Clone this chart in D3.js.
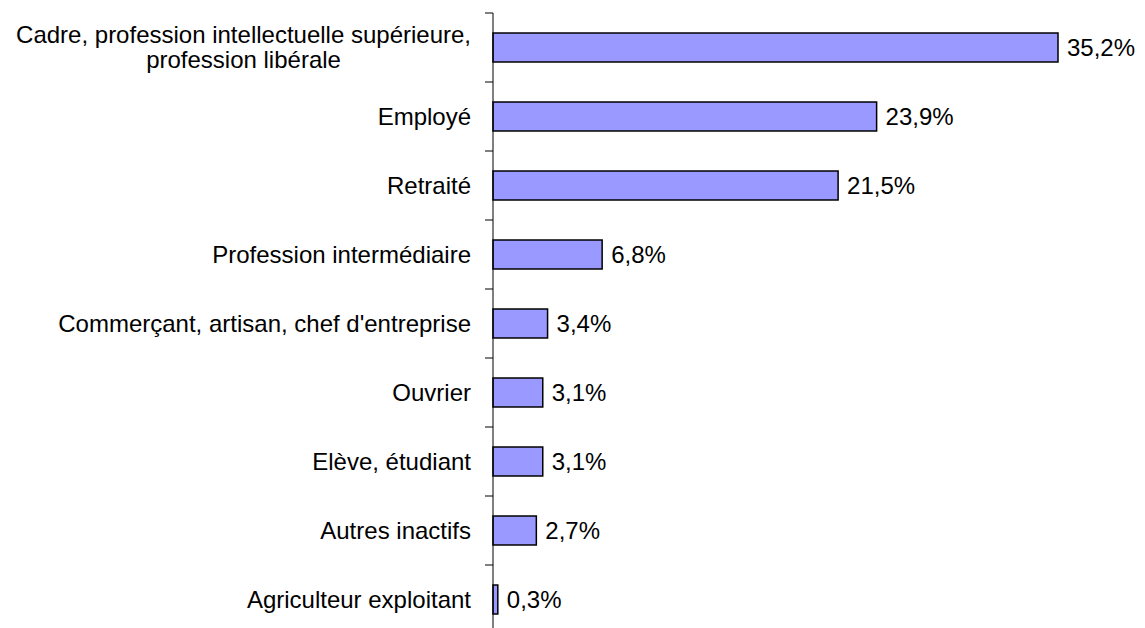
<!DOCTYPE html>
<html><head><meta charset="utf-8">
<script src="https://cdn.jsdelivr.net/npm/d3@7"></script>
<style>body{margin:0;background:#fff}svg{display:block}</style>
</head><body>
<script>
const categories = [
  ["Cadre, profession intellectuelle supérieure,", "profession libérale"],
  ["Employé"],
  ["Retraité"],
  ["Profession intermédiaire"],
  ["Commerçant, artisan, chef d'entreprise"],
  ["Ouvrier"],
  ["Elève, étudiant"],
  ["Autres inactifs"],
  ["Agriculteur exploitant"]
];
const values = [35.2, 23.9, 21.5, 6.8, 3.4, 3.1, 3.1, 2.7, 0.3];
const valueLabels = ["35,2%", "23,9%", "21,5%", "6,8%", "3,4%", "3,1%", "3,1%", "2,7%", "0,3%"];

const W = 1145, H = 628;
const svg = d3.select("body").append("svg").attr("width", W).attr("height", H);
const font = "'Liberation Sans', Arial, sans-serif";
const fs = 24;

const idx = d3.range(categories.length);
const y = d3.scaleBand().domain(idx).range([13, 634]).paddingInner(0.58).paddingOuter(0.29);
const x = d3.scaleLinear().domain([0, 35.2]).range([493, 1058]);

// bars
svg.selectAll("rect.bar").data(idx).enter().append("rect")
  .attr("x", x(0)).attr("y", i => y(i))
  .attr("width", i => x(values[i]) - x(0))
  .attr("height", y.bandwidth())
  .attr("fill", "#9999FF").attr("stroke", "#000").attr("stroke-width", 1.5);

// axis
const step = y.step();
svg.append("line").attr("x1", 493).attr("x2", 493).attr("y1", 13).attr("y2", 634)
  .attr("stroke", "#000").attr("stroke-width", 1);
svg.selectAll("line.tick").data(d3.range(categories.length)).enter().append("line")
  .attr("x1", 485).attr("x2", 493)
  .attr("y1", i => 13 + i * step).attr("y2", i => 13 + i * step)
  .attr("stroke", "#000").attr("stroke-width", 1);

// category labels
idx.forEach(i => {
  const lines = categories[i];
  const cy = y(i) + y.bandwidth() / 2;
  const lh = 25;
  const g = svg.append("g");
  if (lines.length === 1) {
    g.append("text").attr("x", 471).attr("y", cy).attr("dy", "0.35em")
      .attr("text-anchor", "end").attr("font-family", font).attr("font-size", fs)
      .attr("fill", "#000").text(lines[0]);
  } else {
    const t = lines.map((l, k) => g.append("text")
      .attr("y", cy + (k - (lines.length - 1) / 2) * lh).attr("dy", "0.35em")
      .attr("text-anchor", "middle").attr("font-family", font).attr("font-size", fs)
      .attr("fill", "#000").text(l));
    const wmax = d3.max(t, s => s.node().getComputedTextLength());
    t.forEach(s => s.attr("x", 471 - wmax / 2));
  }
});

// value labels
svg.selectAll("text.val").data(idx).enter().append("text")
  .attr("x", i => x(values[i]) + 9).attr("y", i => y(i) + y.bandwidth() / 2)
  .attr("dy", "0.35em").attr("font-family", font).attr("font-size", fs)
  .attr("fill", "#000").text(i => valueLabels[i]);
</script>
</body></html>
